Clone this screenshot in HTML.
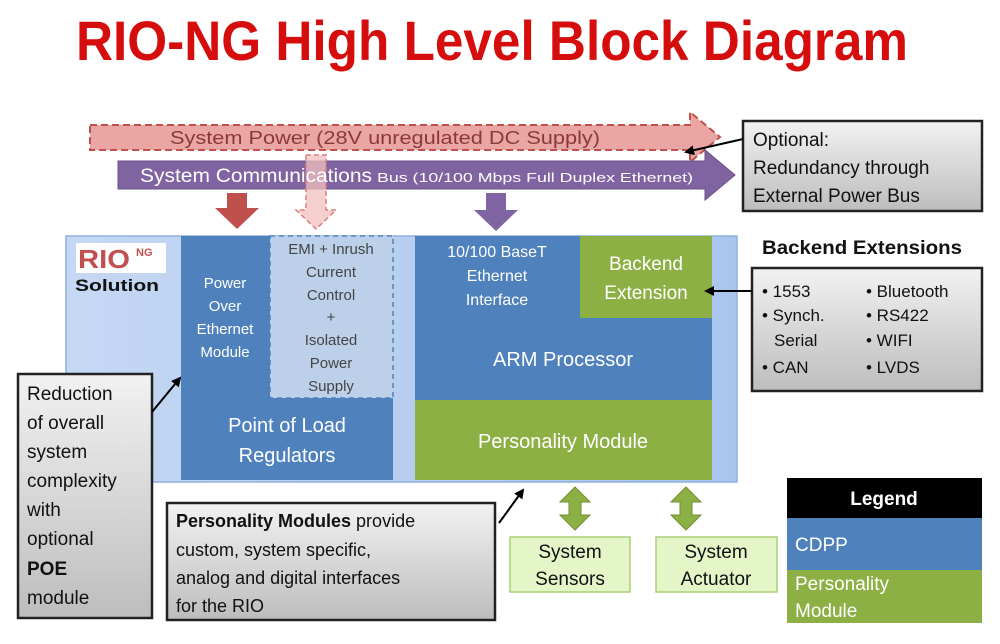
<!DOCTYPE html>
<html><head><meta charset="utf-8"><style>
html,body{margin:0;padding:0;background:#fff;}
svg{display:block;}
text{font-family:"Liberation Sans",sans-serif;}
</style></head><body>
<svg width="1000" height="644" viewBox="0 0 1000 644" xmlns="http://www.w3.org/2000/svg">
<defs>
<linearGradient id="gbox" x1="0" y1="0" x2="0" y2="1"><stop offset="0" stop-color="#f2f2f2"/><stop offset="1" stop-color="#bdbdbd"/></linearGradient>
<linearGradient id="gmain" x1="0" y1="0" x2="1" y2="0"><stop offset="0" stop-color="#c5d8f4"/><stop offset="1" stop-color="#a9c5ee"/></linearGradient>
<marker id="ah" markerWidth="10" markerHeight="10" refX="8" refY="5" orient="auto" markerUnits="userSpaceOnUse"><path d="M0,0 L10,5 L0,10 z" fill="#000"/></marker>
</defs>
<text x="492" y="60" text-anchor="middle" font-size="56" font-weight="bold" fill="#d60d0d" textLength="832" lengthAdjust="spacingAndGlyphs">RIO-NG High Level Block Diagram</text>

<path d="M90,125 L690,125 L690,112 L720,137 L690,162 L690,150 L90,150 Z" fill="#eaa6a3" stroke="#c0504d" stroke-width="2" stroke-dasharray="7,4"/>
<text x="385" y="144" text-anchor="middle" font-size="18" fill="#8a3a38" textLength="430" lengthAdjust="spacingAndGlyphs">System Power (28V unregulated DC Supply)</text>
<path d="M118,161 L705,161 L705,150 L735,175 L705,200 L705,189 L118,189 Z" fill="#8064a2" stroke="#6a4f8a" stroke-width="1"/>
<path d="M306,155 L326,155 L326,210 L336,210 L316,229 L296,210 L306,210 Z" fill="#f2c0bd" fill-opacity="0.75" stroke="#d9827e" stroke-width="1.5" stroke-dasharray="5,3"/>
<text x="140" y="182" font-size="19" fill="#fff" textLength="232" lengthAdjust="spacingAndGlyphs">System Communications</text>
<text x="377" y="182" font-size="13" fill="#fff" textLength="316" lengthAdjust="spacingAndGlyphs">Bus (10/100 Mbps Full Duplex Ethernet)</text>
<path d="M227,193 L247,193 L247,208 L259,208 L237,229 L215,208 L227,208 Z" fill="#c0504d"/>
<path d="M486,193 L506,193 L506,210 L518,210 L496,231 L474,210 L486,210 Z" fill="#8064a2"/>

<rect x="743" y="121" width="239" height="90" fill="url(#gbox)" stroke="#222" stroke-width="2.5"/>
<text x="753" y="146" font-size="19" fill="#111">Optional:</text>
<text x="753" y="174" font-size="19" fill="#111">Redundancy through</text>
<text x="753" y="202" font-size="19" fill="#111">External Power Bus</text>
<line x1="743" y1="139" x2="686" y2="152" stroke="#000" stroke-width="2" marker-end="url(#ah)"/>

<rect x="66" y="236" width="671" height="246" fill="url(#gmain)" stroke="#8eb0de" stroke-width="1.5"/>
<rect x="76" y="243" width="90" height="30" fill="#fff"/>
<text x="78" y="268" font-size="26" font-weight="bold" fill="#c0504d" textLength="52" lengthAdjust="spacingAndGlyphs">RIO</text>
<text x="136" y="256" font-size="11" font-weight="bold" fill="#c0504d">NG</text>
<text x="75" y="291" font-size="17" font-weight="bold" fill="#111" textLength="84" lengthAdjust="spacingAndGlyphs">Solution</text>

<rect x="181" y="236" width="89" height="162" fill="#4f81bd"/>
<g font-size="15" fill="#fff" text-anchor="middle">
<text x="225" y="288">Power</text><text x="225" y="311">Over</text><text x="225" y="334">Ethernet</text><text x="225" y="357">Module</text>
</g>
<rect x="270" y="236" width="123" height="162" fill="#bcd0ea" stroke="#4f81bd" stroke-width="1.5" stroke-dasharray="5,4"/>
<g font-size="15" fill="#444" text-anchor="middle">
<text x="331" y="254">EMI + Inrush</text><text x="331" y="277">Current</text><text x="331" y="300">Control</text><text x="331" y="322">+</text><text x="331" y="345">Isolated</text><text x="331" y="368">Power</text><text x="331" y="391">Supply</text>
</g>
<rect x="181" y="398" width="212" height="82" fill="#4f81bd"/>
<g font-size="20" fill="#fff" text-anchor="middle">
<text x="287" y="432">Point of Load</text><text x="287" y="462">Regulators</text>
</g>

<rect x="415" y="236" width="165" height="82" fill="#4f81bd"/>
<g font-size="16" fill="#fff" text-anchor="middle">
<text x="497" y="257">10/100 BaseT</text><text x="497" y="281">Ethernet</text><text x="497" y="305">Interface</text>
</g>
<rect x="580" y="236" width="132" height="82" fill="#8db045"/>
<g font-size="19" fill="#fff" text-anchor="middle">
<text x="646" y="270">Backend</text><text x="646" y="299">Extension</text>
</g>
<rect x="415" y="318" width="297" height="82" fill="#4f81bd"/>
<text x="563" y="366" text-anchor="middle" font-size="20" fill="#fff">ARM Processor</text>
<rect x="415" y="400" width="297" height="80" fill="#8db045"/>
<text x="563" y="448" text-anchor="middle" font-size="20" fill="#fff">Personality Module</text>

<text x="862" y="254" text-anchor="middle" font-size="19" font-weight="bold" fill="#111" textLength="200" lengthAdjust="spacingAndGlyphs">Backend Extensions</text>
<rect x="752" y="268" width="230" height="123" fill="url(#gbox)" stroke="#222" stroke-width="2.5"/>
<g font-size="17" fill="#111">
<text x="762" y="297">• 1553</text><text x="762" y="321">• Synch.</text><text x="774" y="346">Serial</text><text x="762" y="373">• CAN</text>
<text x="866" y="297">• Bluetooth</text><text x="866" y="321">• RS422</text><text x="866" y="346">• WIFI</text><text x="866" y="373">• LVDS</text>
</g>
<line x1="752" y1="291" x2="706" y2="291" stroke="#000" stroke-width="2" marker-end="url(#ah)"/>

<rect x="18" y="374" width="134" height="244" fill="url(#gbox)" stroke="#222" stroke-width="2.5"/>
<g font-size="19" fill="#111">
<text x="27" y="400">Reduction</text><text x="27" y="429">of overall</text><text x="27" y="458">system</text><text x="27" y="487">complexity</text><text x="27" y="516">with</text><text x="27" y="545">optional</text><text x="27" y="575" font-weight="bold">POE</text><text x="27" y="604">module</text>
</g>
<line x1="152" y1="412" x2="180" y2="378" stroke="#000" stroke-width="2" marker-end="url(#ah)"/>

<rect x="167" y="503" width="328" height="117" fill="url(#gbox)" stroke="#222" stroke-width="2.5"/>
<g font-size="18" fill="#111">
<text x="176" y="527"><tspan font-weight="bold">Personality Modules</tspan> provide</text>
<text x="176" y="556">custom, system specific,</text>
<text x="176" y="584">analog and digital interfaces</text>
<text x="176" y="612">for the RIO</text>
</g>
<line x1="499" y1="523" x2="523" y2="490" stroke="#000" stroke-width="2" marker-end="url(#ah)"/>

<path d="M575,487 L590,502 L581,502 L581,515 L590,515 L575,530 L560,515 L569,515 L569,502 L560,502 Z" fill="#8db045" stroke="#6f8f30"/>
<path d="M686,487 L701,502 L692,502 L692,515 L701,515 L686,530 L671,515 L680,515 L680,502 L671,502 Z" fill="#8db045" stroke="#6f8f30"/>

<rect x="510" y="537" width="120" height="55" fill="#e4f5c8" stroke="#a9cf7a" stroke-width="1.5"/>
<g font-size="19" fill="#111" text-anchor="middle"><text x="570" y="558">System</text><text x="570" y="585">Sensors</text></g>
<rect x="656" y="537" width="121" height="55" fill="#e4f5c8" stroke="#a9cf7a" stroke-width="1.5"/>
<g font-size="19" fill="#111" text-anchor="middle"><text x="716" y="558">System</text><text x="716" y="585">Actuator</text></g>

<rect x="787" y="478" width="195" height="40" fill="#000"/>
<text x="884" y="505" text-anchor="middle" font-size="19" font-weight="bold" fill="#fff">Legend</text>
<rect x="787" y="518" width="195" height="52" fill="#4f81bd"/>
<text x="795" y="551" font-size="19" fill="#fff">CDPP</text>
<rect x="787" y="570" width="195" height="53" fill="#8db045"/>
<text x="795" y="590" font-size="19" fill="#fff">Personality</text>
<text x="795" y="617" font-size="19" fill="#fff">Module</text>
</svg>
</body></html>
